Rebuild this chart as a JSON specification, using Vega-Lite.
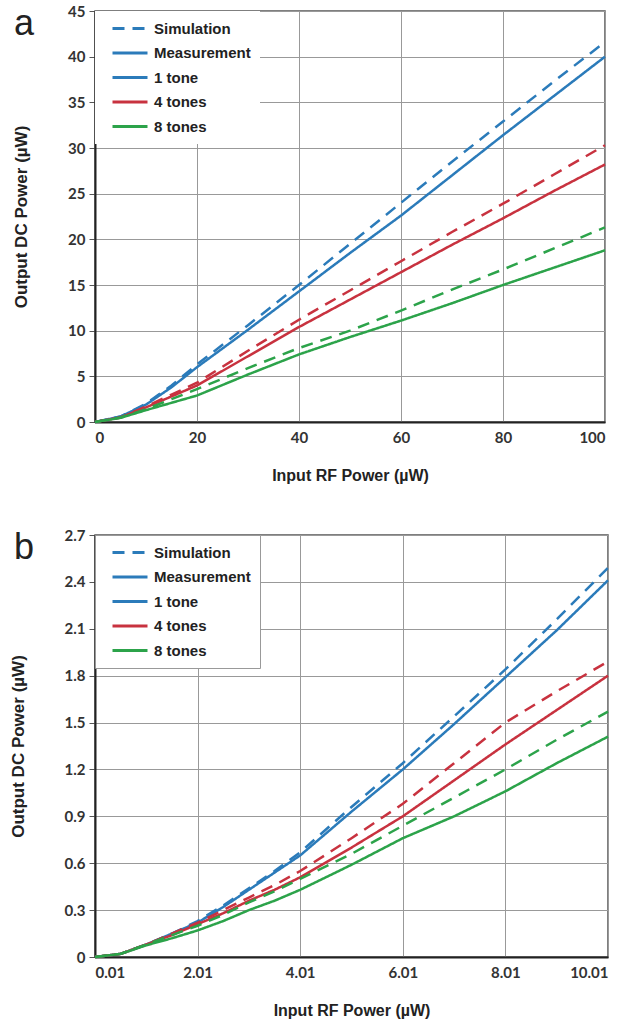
{
  "$schema": "https://vega.github.io/schema/vega-lite/v6.json",
  "background": "white",
  "padding": {"left": 8, "top": 3, "right": 5, "bottom": 5},
  "spacing": 43,
  "datasets": {
    "a": [
      {"x":0,"y":0,"tone":"1 tone","type":"Measurement"},{"x":5,"y":0.6,"tone":"1 tone","type":"Measurement"},{"x":10,"y":1.9,"tone":"1 tone","type":"Measurement"},{"x":15,"y":3.8,"tone":"1 tone","type":"Measurement"},{"x":20,"y":6.0,"tone":"1 tone","type":"Measurement"},{"x":30,"y":10.1,"tone":"1 tone","type":"Measurement"},{"x":40,"y":14.3,"tone":"1 tone","type":"Measurement"},{"x":50,"y":18.5,"tone":"1 tone","type":"Measurement"},{"x":60,"y":22.6,"tone":"1 tone","type":"Measurement"},{"x":70,"y":27.0,"tone":"1 tone","type":"Measurement"},{"x":80,"y":31.4,"tone":"1 tone","type":"Measurement"},{"x":90,"y":35.7,"tone":"1 tone","type":"Measurement"},{"x":100,"y":40.0,"tone":"1 tone","type":"Measurement"},
      {"x":0,"y":0,"tone":"1 tone","type":"Simulation"},{"x":5,"y":0.6,"tone":"1 tone","type":"Simulation"},{"x":10,"y":2.0,"tone":"1 tone","type":"Simulation"},{"x":15,"y":4.0,"tone":"1 tone","type":"Simulation"},{"x":20,"y":6.3,"tone":"1 tone","type":"Simulation"},{"x":30,"y":10.6,"tone":"1 tone","type":"Simulation"},{"x":40,"y":15.0,"tone":"1 tone","type":"Simulation"},{"x":50,"y":19.5,"tone":"1 tone","type":"Simulation"},{"x":60,"y":24.0,"tone":"1 tone","type":"Simulation"},{"x":70,"y":28.5,"tone":"1 tone","type":"Simulation"},{"x":80,"y":32.9,"tone":"1 tone","type":"Simulation"},{"x":90,"y":37.3,"tone":"1 tone","type":"Simulation"},{"x":100,"y":41.6,"tone":"1 tone","type":"Simulation"},
      {"x":0,"y":0,"tone":"4 tones","type":"Measurement"},{"x":5,"y":0.5,"tone":"4 tones","type":"Measurement"},{"x":10,"y":1.6,"tone":"4 tones","type":"Measurement"},{"x":15,"y":2.8,"tone":"4 tones","type":"Measurement"},{"x":20,"y":4.0,"tone":"4 tones","type":"Measurement"},{"x":30,"y":7.2,"tone":"4 tones","type":"Measurement"},{"x":40,"y":10.4,"tone":"4 tones","type":"Measurement"},{"x":50,"y":13.4,"tone":"4 tones","type":"Measurement"},{"x":60,"y":16.4,"tone":"4 tones","type":"Measurement"},{"x":70,"y":19.4,"tone":"4 tones","type":"Measurement"},{"x":80,"y":22.3,"tone":"4 tones","type":"Measurement"},{"x":90,"y":25.3,"tone":"4 tones","type":"Measurement"},{"x":100,"y":28.2,"tone":"4 tones","type":"Measurement"},
      {"x":0,"y":0,"tone":"4 tones","type":"Simulation"},{"x":5,"y":0.5,"tone":"4 tones","type":"Simulation"},{"x":10,"y":1.7,"tone":"4 tones","type":"Simulation"},{"x":15,"y":3.0,"tone":"4 tones","type":"Simulation"},{"x":20,"y":4.3,"tone":"4 tones","type":"Simulation"},{"x":30,"y":7.8,"tone":"4 tones","type":"Simulation"},{"x":40,"y":11.2,"tone":"4 tones","type":"Simulation"},{"x":50,"y":14.4,"tone":"4 tones","type":"Simulation"},{"x":60,"y":17.6,"tone":"4 tones","type":"Simulation"},{"x":70,"y":20.8,"tone":"4 tones","type":"Simulation"},{"x":80,"y":23.9,"tone":"4 tones","type":"Simulation"},{"x":90,"y":27.1,"tone":"4 tones","type":"Simulation"},{"x":100,"y":30.3,"tone":"4 tones","type":"Simulation"},
      {"x":0,"y":0,"tone":"8 tones","type":"Measurement"},{"x":5,"y":0.45,"tone":"8 tones","type":"Measurement"},{"x":10,"y":1.3,"tone":"8 tones","type":"Measurement"},{"x":15,"y":2.1,"tone":"8 tones","type":"Measurement"},{"x":20,"y":2.9,"tone":"8 tones","type":"Measurement"},{"x":30,"y":5.2,"tone":"8 tones","type":"Measurement"},{"x":40,"y":7.4,"tone":"8 tones","type":"Measurement"},{"x":50,"y":9.3,"tone":"8 tones","type":"Measurement"},{"x":60,"y":11.1,"tone":"8 tones","type":"Measurement"},{"x":70,"y":13.0,"tone":"8 tones","type":"Measurement"},{"x":80,"y":15.0,"tone":"8 tones","type":"Measurement"},{"x":90,"y":16.9,"tone":"8 tones","type":"Measurement"},{"x":100,"y":18.8,"tone":"8 tones","type":"Measurement"},
      {"x":0,"y":0,"tone":"8 tones","type":"Simulation"},{"x":5,"y":0.5,"tone":"8 tones","type":"Simulation"},{"x":10,"y":1.4,"tone":"8 tones","type":"Simulation"},{"x":15,"y":2.5,"tone":"8 tones","type":"Simulation"},{"x":20,"y":3.6,"tone":"8 tones","type":"Simulation"},{"x":30,"y":5.9,"tone":"8 tones","type":"Simulation"},{"x":40,"y":8.1,"tone":"8 tones","type":"Simulation"},{"x":50,"y":10.0,"tone":"8 tones","type":"Simulation"},{"x":60,"y":12.2,"tone":"8 tones","type":"Simulation"},{"x":70,"y":14.5,"tone":"8 tones","type":"Simulation"},{"x":80,"y":16.7,"tone":"8 tones","type":"Simulation"},{"x":90,"y":19.0,"tone":"8 tones","type":"Simulation"},{"x":100,"y":21.3,"tone":"8 tones","type":"Simulation"}
    ],
    "b": [
      {"x":0.01,"y":0,"tone":"1 tone","type":"Measurement"},{"x":0.51,"y":0.02,"tone":"1 tone","type":"Measurement"},{"x":1.01,"y":0.08,"tone":"1 tone","type":"Measurement"},{"x":1.51,"y":0.15,"tone":"1 tone","type":"Measurement"},{"x":2.01,"y":0.22,"tone":"1 tone","type":"Measurement"},{"x":2.51,"y":0.32,"tone":"1 tone","type":"Measurement"},{"x":3.01,"y":0.43,"tone":"1 tone","type":"Measurement"},{"x":3.51,"y":0.54,"tone":"1 tone","type":"Measurement"},{"x":4.01,"y":0.65,"tone":"1 tone","type":"Measurement"},{"x":5.01,"y":0.93,"tone":"1 tone","type":"Measurement"},{"x":6.01,"y":1.20,"tone":"1 tone","type":"Measurement"},{"x":7.01,"y":1.49,"tone":"1 tone","type":"Measurement"},{"x":8.01,"y":1.79,"tone":"1 tone","type":"Measurement"},{"x":9.01,"y":2.09,"tone":"1 tone","type":"Measurement"},{"x":10.01,"y":2.41,"tone":"1 tone","type":"Measurement"},
      {"x":0.01,"y":0,"tone":"1 tone","type":"Simulation"},{"x":0.51,"y":0.02,"tone":"1 tone","type":"Simulation"},{"x":1.01,"y":0.08,"tone":"1 tone","type":"Simulation"},{"x":1.51,"y":0.15,"tone":"1 tone","type":"Simulation"},{"x":2.01,"y":0.23,"tone":"1 tone","type":"Simulation"},{"x":2.51,"y":0.33,"tone":"1 tone","type":"Simulation"},{"x":3.01,"y":0.44,"tone":"1 tone","type":"Simulation"},{"x":3.51,"y":0.55,"tone":"1 tone","type":"Simulation"},{"x":4.01,"y":0.67,"tone":"1 tone","type":"Simulation"},{"x":5.01,"y":0.96,"tone":"1 tone","type":"Simulation"},{"x":6.01,"y":1.24,"tone":"1 tone","type":"Simulation"},{"x":7.01,"y":1.54,"tone":"1 tone","type":"Simulation"},{"x":8.01,"y":1.84,"tone":"1 tone","type":"Simulation"},{"x":9.01,"y":2.16,"tone":"1 tone","type":"Simulation"},{"x":10.01,"y":2.49,"tone":"1 tone","type":"Simulation"},
      {"x":0.01,"y":0,"tone":"4 tones","type":"Measurement"},{"x":0.51,"y":0.02,"tone":"4 tones","type":"Measurement"},{"x":1.01,"y":0.08,"tone":"4 tones","type":"Measurement"},{"x":1.51,"y":0.14,"tone":"4 tones","type":"Measurement"},{"x":2.01,"y":0.21,"tone":"4 tones","type":"Measurement"},{"x":2.51,"y":0.28,"tone":"4 tones","type":"Measurement"},{"x":3.01,"y":0.36,"tone":"4 tones","type":"Measurement"},{"x":3.51,"y":0.43,"tone":"4 tones","type":"Measurement"},{"x":4.01,"y":0.51,"tone":"4 tones","type":"Measurement"},{"x":5.01,"y":0.70,"tone":"4 tones","type":"Measurement"},{"x":6.01,"y":0.90,"tone":"4 tones","type":"Measurement"},{"x":7.01,"y":1.13,"tone":"4 tones","type":"Measurement"},{"x":8.01,"y":1.36,"tone":"4 tones","type":"Measurement"},{"x":9.01,"y":1.58,"tone":"4 tones","type":"Measurement"},{"x":10.01,"y":1.80,"tone":"4 tones","type":"Measurement"},
      {"x":0.01,"y":0,"tone":"4 tones","type":"Simulation"},{"x":0.51,"y":0.02,"tone":"4 tones","type":"Simulation"},{"x":1.01,"y":0.08,"tone":"4 tones","type":"Simulation"},{"x":1.51,"y":0.15,"tone":"4 tones","type":"Simulation"},{"x":2.01,"y":0.22,"tone":"4 tones","type":"Simulation"},{"x":2.51,"y":0.30,"tone":"4 tones","type":"Simulation"},{"x":3.01,"y":0.38,"tone":"4 tones","type":"Simulation"},{"x":3.51,"y":0.46,"tone":"4 tones","type":"Simulation"},{"x":4.01,"y":0.55,"tone":"4 tones","type":"Simulation"},{"x":5.01,"y":0.76,"tone":"4 tones","type":"Simulation"},{"x":6.01,"y":0.98,"tone":"4 tones","type":"Simulation"},{"x":7.01,"y":1.24,"tone":"4 tones","type":"Simulation"},{"x":8.01,"y":1.50,"tone":"4 tones","type":"Simulation"},{"x":9.01,"y":1.70,"tone":"4 tones","type":"Simulation"},{"x":10.01,"y":1.89,"tone":"4 tones","type":"Simulation"},
      {"x":0.01,"y":0,"tone":"8 tones","type":"Measurement"},{"x":0.51,"y":0.02,"tone":"8 tones","type":"Measurement"},{"x":1.01,"y":0.075,"tone":"8 tones","type":"Measurement"},{"x":1.51,"y":0.12,"tone":"8 tones","type":"Measurement"},{"x":2.01,"y":0.17,"tone":"8 tones","type":"Measurement"},{"x":2.51,"y":0.23,"tone":"8 tones","type":"Measurement"},{"x":3.01,"y":0.30,"tone":"8 tones","type":"Measurement"},{"x":3.51,"y":0.36,"tone":"8 tones","type":"Measurement"},{"x":4.01,"y":0.43,"tone":"8 tones","type":"Measurement"},{"x":5.01,"y":0.59,"tone":"8 tones","type":"Measurement"},{"x":6.01,"y":0.76,"tone":"8 tones","type":"Measurement"},{"x":7.01,"y":0.90,"tone":"8 tones","type":"Measurement"},{"x":8.01,"y":1.06,"tone":"8 tones","type":"Measurement"},{"x":9.01,"y":1.24,"tone":"8 tones","type":"Measurement"},{"x":10.01,"y":1.41,"tone":"8 tones","type":"Measurement"},
      {"x":0.01,"y":0,"tone":"8 tones","type":"Simulation"},{"x":0.51,"y":0.02,"tone":"8 tones","type":"Simulation"},{"x":1.01,"y":0.08,"tone":"8 tones","type":"Simulation"},{"x":1.51,"y":0.14,"tone":"8 tones","type":"Simulation"},{"x":2.01,"y":0.20,"tone":"8 tones","type":"Simulation"},{"x":2.51,"y":0.27,"tone":"8 tones","type":"Simulation"},{"x":3.01,"y":0.35,"tone":"8 tones","type":"Simulation"},{"x":3.51,"y":0.42,"tone":"8 tones","type":"Simulation"},{"x":4.01,"y":0.50,"tone":"8 tones","type":"Simulation"},{"x":5.01,"y":0.66,"tone":"8 tones","type":"Simulation"},{"x":6.01,"y":0.84,"tone":"8 tones","type":"Simulation"},{"x":7.01,"y":1.02,"tone":"8 tones","type":"Simulation"},{"x":8.01,"y":1.20,"tone":"8 tones","type":"Simulation"},{"x":9.01,"y":1.39,"tone":"8 tones","type":"Simulation"},{"x":10.01,"y":1.57,"tone":"8 tones","type":"Simulation"}
    ],
    "legend": [
      {"key":"Simulation","x":null,"y":null},
      {"key":"Measurement","x":null,"y":null},
      {"key":"1 tone","x":null,"y":null},
      {"key":"4 tones","x":null,"y":null},
      {"key":"8 tones","x":null,"y":null}
    ]
  },
  "config": {
    "view": {"stroke": "#555", "strokeWidth": 1.5},
    "axis": {
      "labelFont": "Lato", "labelFontWeight": "bold", "labelFontSize": 15, "labelColor": "#333",
      "titleFont": "Liberation Sans", "titleFontWeight": "bold", "titleFontSize": 16, "titleColor": "#222",
      "gridColor": "#999", "gridWidth": 1, "gridOpacity": 1,
      "domainColor": "#222", "domainWidth": 2, "tickColor": "#555", "tickSize": 6
    },
    "axisX": {"ticks": false, "labelPadding": 8, "titlePadding": 22},
    "axisY": {"titleFontSize": 17, "labelPadding": 4, "titlePadding": 37},
    "title": {"anchor": "start", "frame": "group", "font": "Liberation Sans", "fontSize": 36, "fontWeight": "normal", "color": "#222", "baseline": "alphabetic", "offset": -18, "dx": -81, "dy": 21}
  },
  "vconcat": [
    {
      "title": {"text": "a"},
      "width": 510,
      "height": 411,
      "layer": [
        {
          "data": {"name": "a"},
          "mark": {"type": "line", "strokeWidth": 2.5},
          "encoding": {
            "x": {"field": "x", "type": "quantitative", "scale": {"domain": [0, 100], "nice": false}, "axis": {"values": [0, 20, 40, 60, 80, 100], "title": "Input RF Power (µW)"}},
            "y": {"field": "y", "type": "quantitative", "scale": {"domain": [0, 45], "nice": false}, "axis": {"values": [0, 5, 10, 15, 20, 25, 30, 35, 40, 45], "title": "Output DC Power (µW)"}},
            "color": {"field": "tone", "type": "nominal", "scale": {"domain": ["1 tone", "4 tones", "8 tones"], "range": ["#2B7BBA", "#C8323F", "#2CA34A"]}, "legend": null},
            "strokeDash": {"field": "type", "type": "nominal", "scale": {"domain": ["Simulation", "Measurement"], "range": [[12, 8], [1, 0]]}, "legend": null}
          }
        },
        {
          "data": {"name": "legend"},
          "mark": {"type": "line", "strokeWidth": 2.5},
          "encoding": {
            "x": {"field": "x", "type": "quantitative"},
            "y": {"field": "y", "type": "quantitative"},
            "color": {"field": "key", "type": "nominal", "scale": {"domain": ["Simulation", "Measurement", "1 tone", "4 tones", "8 tones"], "range": ["#2B7BBA", "#2B7BBA", "#2B7BBA", "#C8323F", "#2CA34A"]},
              "legend": {"title": null, "orient": "top-left", "offset": 0, "padding": 9, "fillColor": "white", "symbolType": "M0,0H5", "symbolSize": 196, "symbolStrokeWidth": 3, "labelFont": "Liberation Sans", "labelFontWeight": "bold", "labelFontSize": 15, "labelColor": "#222", "rowPadding": 7.5, "labelOffset": 33}},
            "strokeDash": {"field": "key", "type": "nominal", "scale": {"domain": ["Simulation", "Measurement", "1 tone", "4 tones", "8 tones"], "range": [[12, 8], [1, 0], [1, 0], [1, 0], [1, 0]]},
              "legend": {"title": null, "orient": "top-left", "offset": 0, "padding": 9, "fillColor": "white", "symbolType": "M0,0H5", "symbolSize": 196, "symbolStrokeWidth": 3, "labelFont": "Liberation Sans", "labelFontWeight": "bold", "labelFontSize": 15, "labelColor": "#222", "rowPadding": 7.5, "labelOffset": 33}}
          }
        }
      ],
      "resolve": {"scale": {"color": "independent", "strokeDash": "independent"}}
    },
    {
      "title": {"text": "b"},
      "width": 513,
      "height": 422,
      "layer": [
        {
          "data": {"name": "b"},
          "mark": {"type": "line", "strokeWidth": 2.5},
          "encoding": {
            "x": {"field": "x", "type": "quantitative", "scale": {"domain": [0.01, 10.01], "nice": false, "zero": false}, "axis": {"values": [0.01, 2.01, 4.01, 6.01, 8.01, 10.01], "format": ".2f", "title": "Input RF Power (µW)"}},
            "y": {"field": "y", "type": "quantitative", "scale": {"domain": [0, 2.7], "nice": false}, "axis": {"values": [0, 0.3, 0.6, 0.9, 1.2, 1.5, 1.8, 2.1, 2.4, 2.7], "format": ".1~f", "title": "Output DC Power (µW)"}},
            "color": {"field": "tone", "type": "nominal", "scale": {"domain": ["1 tone", "4 tones", "8 tones"], "range": ["#2B7BBA", "#C8323F", "#2CA34A"]}, "legend": null},
            "strokeDash": {"field": "type", "type": "nominal", "scale": {"domain": ["Simulation", "Measurement"], "range": [[12, 8], [1, 0]]}, "legend": null}
          }
        },
        {
          "data": {"name": "legend"},
          "mark": {"type": "line", "strokeWidth": 2.5},
          "encoding": {
            "x": {"field": "x", "type": "quantitative"},
            "y": {"field": "y", "type": "quantitative"},
            "color": {"field": "key", "type": "nominal", "scale": {"domain": ["Simulation", "Measurement", "1 tone", "4 tones", "8 tones"], "range": ["#2B7BBA", "#2B7BBA", "#2B7BBA", "#C8323F", "#2CA34A"]},
              "legend": {"title": null, "orient": "top-left", "offset": 0, "padding": 9, "fillColor": "white", "strokeColor": "#999", "symbolType": "M0,0H5", "symbolSize": 196, "symbolStrokeWidth": 3, "labelFont": "Liberation Sans", "labelFontWeight": "bold", "labelFontSize": 15, "labelColor": "#222", "rowPadding": 7.5, "labelOffset": 33}},
            "strokeDash": {"field": "key", "type": "nominal", "scale": {"domain": ["Simulation", "Measurement", "1 tone", "4 tones", "8 tones"], "range": [[12, 8], [1, 0], [1, 0], [1, 0], [1, 0]]},
              "legend": {"title": null, "orient": "top-left", "offset": 0, "padding": 9, "fillColor": "white", "strokeColor": "#999", "symbolType": "M0,0H5", "symbolSize": 196, "symbolStrokeWidth": 3, "labelFont": "Liberation Sans", "labelFontWeight": "bold", "labelFontSize": 15, "labelColor": "#222", "rowPadding": 7.5, "labelOffset": 33}}
          }
        }
      ],
      "resolve": {"scale": {"color": "independent", "strokeDash": "independent"}}
    }
  ]
}
